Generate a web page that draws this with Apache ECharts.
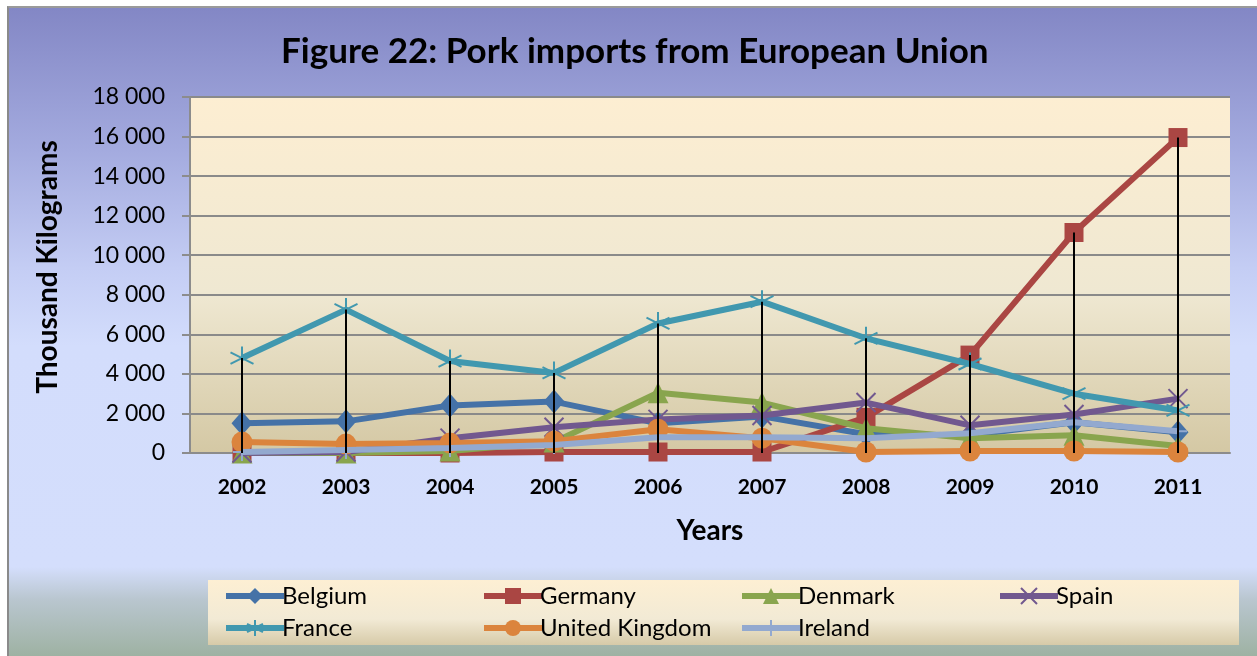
<!DOCTYPE html>
<html>
<head>
<meta charset="utf-8">
<script src="https://cdn.jsdelivr.net/npm/echarts@6/dist/echarts.min.js"></script>
<style>
  html, body { margin: 0; padding: 0; background: #fff; }
  #frame {
    position: absolute; left: 7px; top: 6px; width: 1250px; height: 650px;
    border-left: 2px solid #8a8a8a; border-top: 2px solid #9a9a9a;
    background: linear-gradient(to bottom, #8387c5 0%, #a4abdf 22%, #c4cdf4 40%, #d3ddfc 52%, #d4defc 86%, #b9c6cf 91%, #9db1a1 100%);
  }
  #main { position: absolute; left: 0; top: 0; width: 1257px; height: 656px; }
</style>
</head>
<body>
<div id="frame"></div>
<div id="main"></div>
<script>
var years = ['2002', '2003', '2004', '2005', '2006', '2007', '2008', '2009', '2010', '2011'];
var belgium = [1500, 1600, 2400, 2600, 1500, 1850, 950, 900, 1550, 1050];
var germany = [0, 0, 0, 50, 50, 50, 1800, 4950, 11150, 15950];
var denmark = [0, 0, 100, 550, 3050, 2550, 1250, 750, 900, 350];
var spain = [0, 50, 750, 1300, 1700, 1900, 2550, 1400, 1950, 2750];
var france = [4800, 7250, 4650, 4050, 6550, 7650, 5800, 4500, 3000, 2150];
var uk = [550, 450, 500, 600, 1200, 750, 50, 100, 100, 50];
var ireland = [50, 150, 250, 400, 800, 800, 750, 1000, 1550, 1100];

var names = ['Belgium', 'Germany', 'Denmark', 'Spain', 'France', 'United Kingdom', 'Ireland'];
var values = [belgium, germany, denmark, spain, france, uk, ireland];
var colors = ['#4572a7', '#aa4643', '#89a54e', '#71588f', '#4198af', '#db843d', '#93a9cf'];
var symbols = [
	'diamond', 'rect', 'triangle',
	'path://M0,0L20,20M20,0L0,20',
	'path://M10,0L10,20M0,5L20,15M0,15L20,5',
	'circle',
	'path://M10,0L10,20M0,10L20,10'
];
var sizes = [[21, 24], 19, 21, 19, 23, 21, 18];

// drop lines go from the highest point of each year down to the axis
var drop = years.map(function (y, i) {
	var m = 0;
	for (var k = 0; k < values.length; k++) m = Math.max(m, values[k][i]);
	return m;
});

var font = 'Lato, "Liberation Sans", sans-serif';

var series = [];
for (var i = 0; i < names.length; i++) {
	var stroke = symbols[i].indexOf('path://') === 0;
	series.push({
		name: names[i],
		type: 'line',
		data: values[i],
		symbol: symbols[i],
		symbolSize: sizes[i],
		showAllSymbol: true,
		lineStyle: { color: colors[i], width: 6 },
		itemStyle: {
			color: stroke ? 'none' : colors[i],
			borderColor: colors[i],
			borderWidth: stroke ? 2 : 0
		},
		emphasis: { disabled: true },
		z: 3 + i
	});
}
series.push({
	name: 'drop',
	type: 'bar',
	data: drop,
	barWidth: 2,
	itemStyle: { color: '#000' },
	emphasis: { disabled: true },
	z: 20
});

var legendLeft = [223, 481, 739, 997];
var legends = names.map(function (n, i) {
	return {
		data: [n],
		left: legendLeft[i % 4],
		top: i < 4 ? 584 : 616,
		padding: 0,
		itemWidth: 58,
		itemHeight: 20,
		itemGap: 0,
		lineStyle: { width: 6 },
		textStyle: { fontFamily: font, fontSize: 24, color: '#000', padding: [0, 0, 0, -7] },
		selectedMode: false
	};
});

var option = {
	animation: false,
	title: {
		text: 'Figure 22: Pork imports from European Union',
		left: 276,
		top: 29,
		textStyle: { fontFamily: font, fontSize: 35, fontWeight: 'bold', color: '#000' }
	},
	graphic: [{
		type: 'rect',
		shape: { x: 208, y: 580, width: 1031, height: 65 },
		style: {
			fill: new echarts.graphic.LinearGradient(0, 0, 0, 1, [
				{ offset: 0, color: '#fdefd3' },
				{ offset: 0.6, color: '#f2ead5' },
				{ offset: 1, color: '#d6caa8' }
			])
		},
		z: -1
	}],
	legend: legends,
	grid: {
		left: 190, top: 97, right: 27, bottom: 203,
		show: true,
		borderWidth: 0,
		backgroundColor: new echarts.graphic.LinearGradient(0, 0, 0, 1, [
			{ offset: 0, color: '#fdeed2' },
			{ offset: 0.55, color: '#efe8d2' },
			{ offset: 1, color: '#d4c8a4' }
		])
	},
	xAxis: {
		type: 'category',
		data: years,
		boundaryGap: true,
		name: 'Years',
		nameLocation: 'middle',
		nameGap: 64,
		nameTextStyle: { fontFamily: font, fontSize: 28, fontWeight: 'bold', color: '#000' },
		axisLine: { lineStyle: { color: '#8c8c8c', width: 2 } },
		axisTick: { show: false },
		axisLabel: { fontFamily: font, fontSize: 21, fontWeight: 'bold', color: '#000', margin: 24 }
	},
	yAxis: {
		type: 'value',
		min: 0,
		max: 18000,
		interval: 2000,
		name: 'Thousand Kilograms',
		nameLocation: 'middle',
		nameGap: 128,
		nameTextStyle: { fontFamily: font, fontSize: 28, fontWeight: 'bold', color: '#000', padding: [0, 0, 0, 16] },
		axisLine: { show: true, lineStyle: { color: '#8c8c8c', width: 2 } },
		axisTick: { show: true, length: 8, lineStyle: { color: '#8c8c8c', width: 2 } },
		splitLine: { lineStyle: { color: '#8a8a8a', width: 2 } },
		axisLabel: {
			fontFamily: font, fontSize: 23, color: '#000', margin: 25,
			formatter: function (v) { return String(v).replace(/\B(?=(\d{3})+(?!\d))/g, ' '); }
		}
	},
	series: series
};

var myChart = echarts.init(document.getElementById('main'));
myChart.setOption(option);
</script>
</body>
</html>
